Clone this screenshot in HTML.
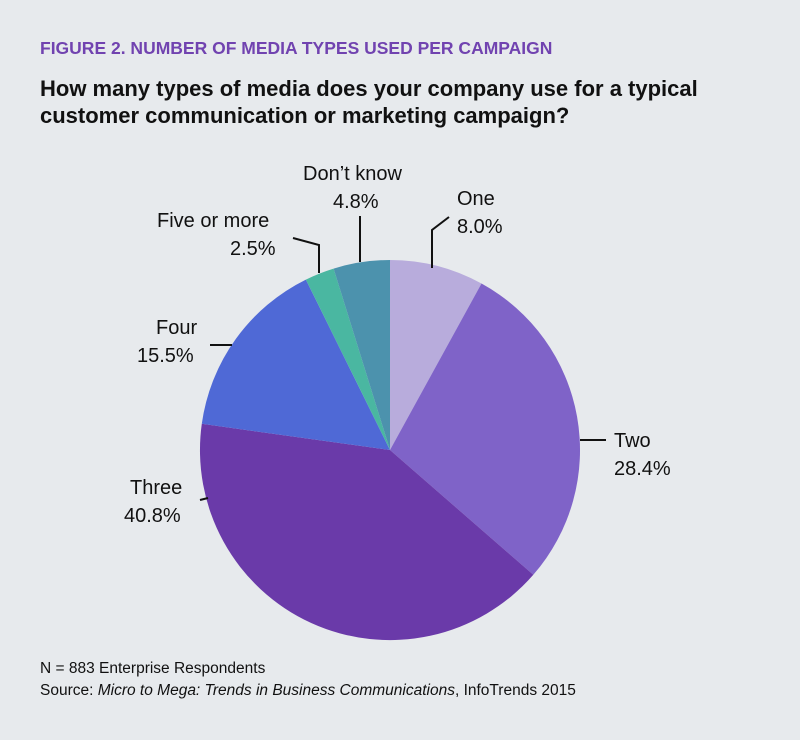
<!DOCTYPE html>
<html><head><meta charset="utf-8"><style>
body{margin:0;background:#e7eaed;}
svg{display:block;font-family:"Liberation Sans",sans-serif;}
</style></head><body>
<svg width="800" height="740" viewBox="0 0 800 740">
<rect width="800" height="740" fill="#e7eaed"/>
<text x="40" y="54" font-size="17.5" font-weight="bold" fill="#7143b0">FIGURE 2. NUMBER OF MEDIA TYPES USED PER CAMPAIGN</text>
<text x="40" y="96" font-size="22" font-weight="bold" fill="#111">How many types of media does your company use for a typical</text>
<text x="40" y="123" font-size="22" font-weight="bold" fill="#111">customer communication or marketing campaign?</text>
<g>
<path d="M390,450 L390,260 A190,190 0 0 1 481.5,283.5 Z" fill="#b8acdc"/>
<path d="M390,450 L481.5,283.5 A190,190 0 0 1 533.3,574.8 Z" fill="#7f63c8"/>
<path d="M390,450 L533.3,574.8 A190,190 0 0 1 201.8,423.8 Z" fill="#6a3aa9"/>
<path d="M390,450 L201.8,423.8 A190,190 0 0 1 305.9,279.6 Z" fill="#4f69d6"/>
<path d="M390,450 L305.9,279.6 A190,190 0 0 1 333.6,268.6 Z" fill="#4ab7a1"/>
<path d="M390,450 L333.6,268.6 A190,190 0 0 1 390,260 Z" fill="#4c92ad"/>
</g>
<g stroke="#111" stroke-width="2" fill="none">
<polyline points="432,268 432,230 449,217"/>
<polyline points="360,262 360,216"/>
<polyline points="319,273 319,245 293,238"/>
<polyline points="210,345 232,345"/>
<polyline points="580,440 606,440"/>
<polyline points="208,498 200,500"/>
</g>
<g font-size="20" fill="#111">
<text x="457" y="205">One</text><text x="457" y="233">8.0%</text>
<text x="303" y="180">Don’t know</text><text x="333" y="208">4.8%</text>
<text x="157" y="227">Five or more</text><text x="230" y="255">2.5%</text>
<text x="156" y="334">Four</text><text x="137" y="362">15.5%</text>
<text x="614" y="447">Two</text><text x="614" y="475">28.4%</text>
<text x="130" y="494">Three</text><text x="124" y="522">40.8%</text>
</g>
<text x="40" y="673" font-size="15.5" fill="#111">N = 883 Enterprise Respondents</text>
<text x="40" y="695" font-size="15.5" fill="#111">Source: <tspan font-style="italic">Micro to Mega: Trends in Business Communications</tspan>, InfoTrends 2015</text>
</svg>
</body></html>
